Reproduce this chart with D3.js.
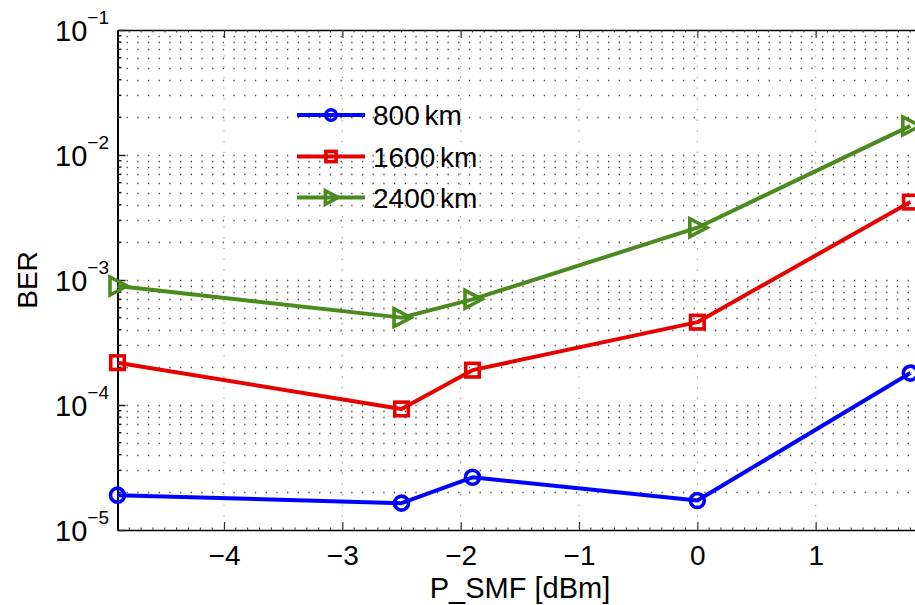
<!DOCTYPE html>
<html>
<head>
<meta charset="utf-8">
<script src="https://cdn.jsdelivr.net/npm/d3@7"></script>
<style>
  html, body { margin: 0; padding: 0; background: #fff; }
  svg { display: block; font-family: "Liberation Sans", Arial, Helvetica, sans-serif; }
</style>
</head>
<body>
<svg id="chart" width="915" height="605"></svg>
<script>
// ---- data ----
const xValues = [-4.9, -2.5, -1.9, 0, 1.8];
const ber800  = [1.9e-5, 1.64e-5, 2.64e-5, 1.72e-5, 1.8e-4];
const ber1600 = [2.18e-4, 9.3e-5, 1.9e-4, 4.6e-4, 4.2e-3];
const ber2400 = [8.95e-4, 5.0e-4, 7.0e-4, 2.62e-3, 1.71e-2];
const seriesNames = ["800 km", "1600 km", "2400 km"];
const xTickValues = [-4, -3, -2, -1, 0, 1];
const yTickExponents = [-5, -4, -3, -2, -1];
const xLabel = "P_SMF [dBm]";
const yLabel = "BER";

(function () {
const series = [
  { name: seriesNames[0], values: ber800,  color: "#0000ff", marker: "circle" },
  { name: seriesNames[1], values: ber1600, color: "#e60000", marker: "square" },
  { name: seriesNames[2], values: ber2400, color: "#4a8a1e", marker: "triangle" }
];

const svg = d3.select("#chart");
const pLeft = 117.5, pRight = 934, pTop = 30, pBottom = 530;

const x = d3.scaleLinear().domain([-4.9, 2.0]).range([pLeft, pRight]);
const y = d3.scaleLog().domain([1e-5, 1e-1]).range([pBottom, pTop]);

// ---- grid ----
const grid = svg.append("g");
const minorVals = [];
for (let e = -5; e < -1; e++) for (let k = 1; k <= 9; k++) minorVals.push(k * Math.pow(10, e));
minorVals.push(1e-1);
grid.selectAll("line.h").data(minorVals.filter(v => v > 1e-5 && v < 1e-1)).enter().append("line")
  .attr("x1", pLeft + 9).attr("x2", pRight)
  .attr("y1", d => Math.round(y(d)) + 0.5).attr("y2", d => Math.round(y(d)) + 0.5)
  .attr("stroke", "#444").attr("stroke-width", 1.3).attr("stroke-dasharray", "1.3,9.4");
grid.selectAll("line.v").data(xTickValues).enter().append("line")
  .attr("x1", d => x(d)).attr("x2", d => x(d))
  .attr("y1", pTop + 4).attr("y2", pBottom)
  .attr("stroke", "#888").attr("stroke-width", 1).attr("stroke-dasharray", "1.2,9.5");

// ---- axes ----
const axisG = svg.append("g");
const xAxis = d3.axisBottom(x).tickValues(xTickValues).tickSizeInner(-8).tickSizeOuter(0)
  .tickFormat(d => d < 0 ? "\u2212" + Math.abs(d) : String(d));
const gx = axisG.append("g").attr("transform", `translate(0,${pBottom})`).call(xAxis);
gx.select(".domain").attr("stroke", "#000").attr("stroke-width", 1.5);
gx.selectAll(".tick line").attr("stroke", "#333").attr("stroke-width", 1.2);
gx.selectAll(".tick text").attr("font-size", 28).attr("fill", "#000").attr("y", 0).attr("dy", 35)
  .attr("font-family", "Liberation Sans, Arial, sans-serif");
const xAxisTop = d3.axisTop(x).tickValues(xTickValues).tickSizeInner(-8).tickSizeOuter(0).tickFormat("");
const gxt = axisG.append("g").attr("transform", `translate(0,${pTop})`).call(xAxisTop);
gxt.select(".domain").attr("stroke", "#000").attr("stroke-width", 1.5);
gxt.selectAll(".tick line").attr("stroke", "#333").attr("stroke-width", 1.2);
const xMinor = d3.range(-48, 20).map(i => i / 10).filter(v => Math.abs(v - Math.round(v)) > 1e-6);
axisG.append("g").selectAll("line").data(xMinor).enter().append("line")
  .attr("x1", d => x(d)).attr("x2", d => x(d))
  .attr("y1", pBottom).attr("y2", pBottom - 2.5).attr("stroke", "#333").attr("stroke-width", 1);
axisG.append("g").selectAll("line").data(xMinor).enter().append("line")
  .attr("x1", d => x(d)).attr("x2", d => x(d))
  .attr("y1", pTop).attr("y2", pTop + 2.5).attr("stroke", "#333").attr("stroke-width", 1);

const yMajor = yTickExponents.map(e => Math.pow(10, e));
const yAxis = d3.axisLeft(y).tickValues(yMajor).tickSizeInner(-8).tickSizeOuter(0).tickFormat("");
const gy = axisG.append("g").attr("transform", `translate(${pLeft},0)`).call(yAxis);
gy.select(".domain").attr("stroke", "#000").attr("stroke-width", 2);
gy.selectAll(".tick line").attr("stroke", "#222").attr("stroke-width", 1.5);
axisG.append("g").selectAll("line").data(minorVals.filter(v => !yMajor.some(m => Math.abs(m - v) / m < 1e-9)))
  .enter().append("line")
  .attr("x1", pLeft).attr("x2", pLeft + 4)
  .attr("y1", d => y(d)).attr("y2", d => y(d)).attr("stroke", "#222").attr("stroke-width", 1.5);
const yl = axisG.append("g").selectAll("text").data(yTickExponents).enter().append("text")
  .attr("x", 109).attr("y", d => y(Math.pow(10, d)) + 11)
  .attr("text-anchor", "end").attr("font-size", 29).attr("fill", "#000");
yl.append("tspan").text("10");
yl.append("tspan").attr("dy", -17).attr("font-size", 19).text(d => "\u2212" + Math.abs(d));

svg.append("text").attr("x", 520).attr("y", 598)
  .attr("text-anchor", "middle").attr("font-size", 29).attr("fill", "#000").text(xLabel);
svg.append("text").attr("transform", `translate(37,${(pTop + pBottom) / 2}) rotate(-90)`)
  .attr("text-anchor", "middle").attr("font-size", 28).attr("fill", "#000").text(yLabel);

// ---- markers ----
function drawMarker(g, type, cx, cy, color, s) {
  if (type === "circle") {
    g.append("circle").attr("cx", cx).attr("cy", cy).attr("r", 7 * s)
      .attr("fill", "none").attr("stroke", color).attr("stroke-width", 3.6);
  } else if (type === "square") {
    const h = 6.8 * s;
    g.append("rect").attr("x", cx - h).attr("y", cy - h).attr("width", 2 * h).attr("height", 2 * h)
      .attr("fill", "none").attr("stroke", color).attr("stroke-width", 3.6);
  } else {
    const pts = [[cx - 7.5 * s, cy - 9 * s], [cx - 7.5 * s, cy + 9 * s], [cx + 9.5 * s, cy]];
    g.append("path").attr("d", "M" + pts.map(p => p.join(",")).join("L") + "Z")
      .attr("fill", "none").attr("stroke", color).attr("stroke-width", 3.6).attr("stroke-linejoin", "miter");
  }
}

const line = d3.line().x(d => x(d[0])).y(d => y(d[1]));
const dataG = svg.append("g");
series.forEach(s => {
  const pts = xValues.map((xv, i) => [xv, s.values[i]]);
  dataG.append("path").attr("d", line(pts)).attr("fill", "none")
    .attr("stroke", s.color).attr("stroke-width", 4).attr("stroke-linejoin", "round");
  pts.forEach(p => drawMarker(dataG, s.marker, x(p[0]), y(p[1]), s.color, 1));
});

// ---- legend ----
const legendY = [115, 156.5, 197.5];
const lg = svg.append("g");
series.forEach((s, i) => {
  const ly = legendY[i];
  lg.append("line").attr("x1", 297).attr("x2", 365).attr("y1", ly).attr("y2", ly)
    .attr("stroke", s.color).attr("stroke-width", 4);
  drawMarker(lg, s.marker, 331, ly, s.color, 0.75);
  lg.append("text").attr("x", 373).attr("y", ly + 10).attr("font-size", 28).attr("fill", "#000")
    .attr("word-spacing", -3).text(s.name);
});
})();
</script>
</body>
</html>
